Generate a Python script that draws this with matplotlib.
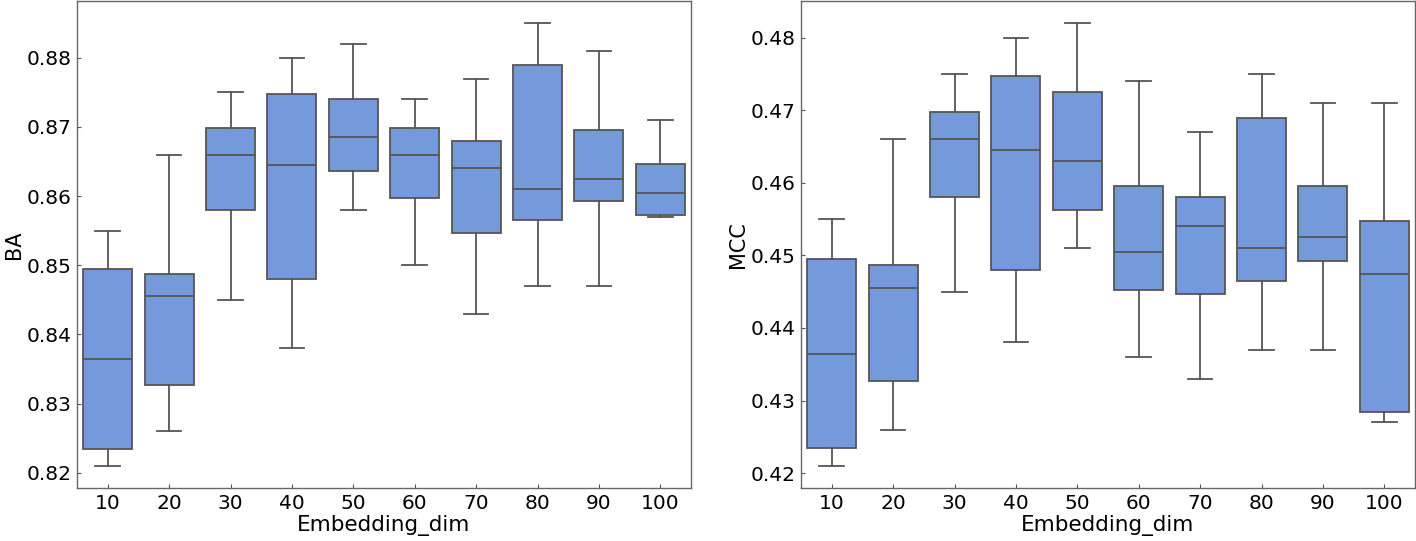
import matplotlib
matplotlib.use("Agg")
import matplotlib.pyplot as plt

dims = ["10", "20", "30", "40", "50", "60", "70", "80", "90", "100"]

# BA: whisker low, q1, median, q3, whisker high
ba_lo = [0.821, 0.826, 0.845, 0.838, 0.858, 0.850, 0.843, 0.847, 0.847, 0.857]
ba_q1 = [0.8235, 0.8327, 0.858, 0.848, 0.8637, 0.8597, 0.8547, 0.8565, 0.8593, 0.8572]
ba_med = [0.8365, 0.8455, 0.866, 0.8645, 0.8685, 0.866, 0.864, 0.861, 0.8625, 0.8605]
ba_q3 = [0.8495, 0.8487, 0.8698, 0.8747, 0.874, 0.8698, 0.868, 0.879, 0.8695, 0.8647]
ba_hi = [0.855, 0.866, 0.875, 0.880, 0.882, 0.874, 0.877, 0.885, 0.881, 0.871]

# MCC
mcc_lo = [0.421, 0.426, 0.445, 0.438, 0.451, 0.436, 0.433, 0.437, 0.437, 0.427]
mcc_q1 = [0.4235, 0.4327, 0.458, 0.448, 0.4562, 0.4452, 0.4447, 0.4465, 0.4492, 0.4284]
mcc_med = [0.4364, 0.4455, 0.466, 0.4645, 0.463, 0.4505, 0.454, 0.451, 0.4525, 0.4475]
mcc_q3 = [0.4495, 0.4487, 0.4697, 0.4747, 0.4725, 0.4595, 0.458, 0.469, 0.4595, 0.4547]
mcc_hi = [0.455, 0.466, 0.475, 0.480, 0.482, 0.474, 0.467, 0.475, 0.471, 0.471]

box_color = "#759ADC"
line_color = "#555555"

plt.rcParams["font.family"] = "DejaVu Sans"
fig = plt.figure(figsize=(14.16, 5.41), dpi=100)
ax1 = fig.add_axes([0.0544, 0.098, 0.4336, 0.900])
ax2 = fig.add_axes([0.5657, 0.098, 0.4336, 0.900])


def draw(ax, lo, q1, med, q3, hi, ylabel):
    stats = []
    for i in range(len(dims)):
        stats.append(dict(whislo=lo[i], q1=q1[i], med=med[i], q3=q3[i],
                          whishi=hi[i], fliers=[], label=dims[i]))
    line = dict(color=line_color, linewidth=1.3)
    ax.bxp(stats, positions=range(len(dims)), widths=0.8, patch_artist=True,
           showfliers=False, capwidths=0.4,
           boxprops=dict(facecolor=box_color, edgecolor=line_color, linewidth=1.3),
           medianprops=line, whiskerprops=line, capprops=line)
    ax.set_xlim(-0.5, len(dims) - 0.5)
    ax.margins(y=0.05)
    ax.set_xticks(range(len(dims)))
    ax.set_xticklabels(dims)
    ax.set_xlabel("Embedding_dim", fontsize=15.5, labelpad=2)
    ax.set_ylabel(ylabel, fontsize=15, labelpad=2)
    ax.tick_params(direction="in", length=3, labelsize=14.5, color=line_color, pad=4)
    for s in ax.spines.values():
        s.set_color("#666666")
        s.set_linewidth(1.0)


draw(ax1, ba_lo, ba_q1, ba_med, ba_q3, ba_hi, "BA")
ax1.set_yticks([0.82, 0.83, 0.84, 0.85, 0.86, 0.87, 0.88])
draw(ax2, mcc_lo, mcc_q1, mcc_med, mcc_q3, mcc_hi, "MCC")
ax2.set_yticks([0.42, 0.43, 0.44, 0.45, 0.46, 0.47, 0.48])

fig.savefig("out.png", dpi=100)
